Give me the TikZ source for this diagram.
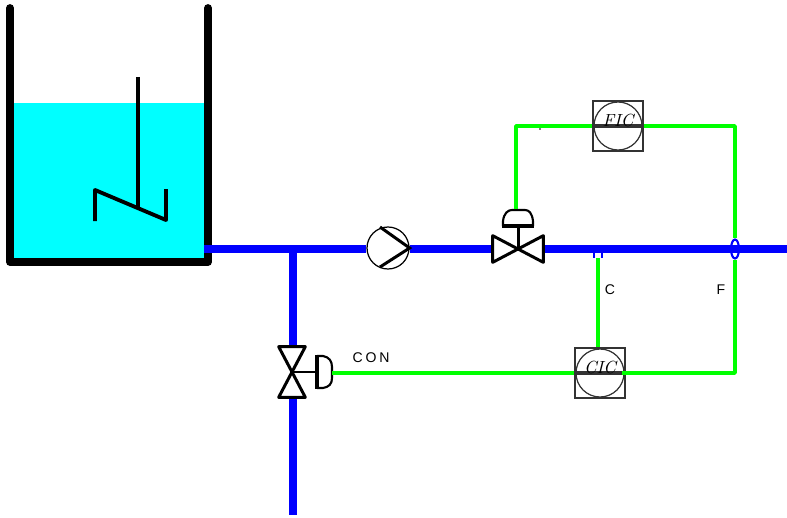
\documentclass[tikz,border=0pt]{standalone}
\usepackage{fontspec}
\usepackage{tikz}
\usetikzlibrary{shapes.geometric}
\newfontfamily\labelfont[LetterSpace=20]{Liberation Sans}
\definecolor{PipeBlue}{RGB}{0, 0, 255}
\definecolor{SignalGreen}{RGB}{0, 255, 0}
\definecolor{WaterCyan}{RGB}{0, 255, 255}

\begin{document}
\begin{tikzpicture}[
    x=0.02cm, y=-0.02cm,
    wall/.style={line width=4.4pt, line join=round, line cap=round},
    stirrer/.style={line width=2.2pt, line join=round},
    pipe/.style={PipeBlue, line width=4.1pt},
    signal/.style={SignalGreen, line width=2.1pt, line join=round},
    pumpbody/.style={draw, circle, inner sep=0pt, line width=0.7pt, minimum size=0.84cm},
    valvehoriz/.style={rectangle, inner sep=0pt, minimum width=1cm, minimum height=0.52cm},
    valvevert/.style={rectangle, inner sep=0pt, minimum width=0.52cm, minimum height=1cm},
    valveline/.style={line width=1.7pt, line join=round, fill=white},
    actuator/.style={line width=1.2pt, line join=round},
    actbar/.style={line width=2.4pt},
    instrument/.style={draw=black!80, line width=0.9pt, rectangle, inner sep=0pt, minimum size=0.99cm, font=\normalsize\itshape,
      path picture={
        \draw[line width=0.7pt] (path picture bounding box.center) circle (0.48cm);
        \draw[line width=2.8pt] (path picture bounding box.west) -- (path picture bounding box.east);
      }},
    tag/.style={font=\labelfont\footnotesize, inner sep=0pt}
  ]
    \useasboundingbox (0,0) rectangle (787,517);

    % tank
    \fill[WaterCyan] (10,103) rectangle (208,262);
    \draw[wall] (10,8) -- (10,262) -- (208,262) -- (208,8);
    \draw[line width=2pt] (138,77) -- (138,208);
    \draw[stirrer] (95,221) -- (95,190) -- (166,220) -- (166,189);

    % equipment
    \coordinate (outlet) at (204,249);
    \coordinate (tee) at (293,249);
    \coordinate (drain) at (293,515);
    \coordinate (lineend) at (787,249);
    \node[pumpbody] (pump) at (388,248) {};
    \node[valvehoriz] (mainvalve) at (518,249) {};
    \node[valvevert] (drainvalve) at (292,372) {};
    \node[instrument] (fic) at (618,126) {\raisebox{7pt}{FIC}};
    \node[instrument] (cic) at (600,373) {\raisebox{7pt}{CIC}};
    \node[inner sep=0pt, minimum width=0.16cm, minimum height=0.16cm] (csensor) at (598,254) {};
    \coordinate (mainact) at (516,209);
    \coordinate (drainact) at (332,373);

    % process lines
    \draw[pipe] (outlet) -- (pump.west |- outlet);
    \draw[pipe] (pump.east |- lineend) -- (mainvalve.west);
    \draw[pipe] (mainvalve.east) -- (lineend);
    \draw[pipe] (tee) -- (drainvalve.north -| tee);
    \draw[pipe] (drainvalve.south -| tee) -- (drain);
    \draw[PipeBlue, line width=1.2pt] (csensor.north west) -- (csensor.south west);
    \draw[PipeBlue, line width=1.2pt] (csensor.north east) -- (csensor.south east);
    \node[draw=PipeBlue, ellipse, line width=1.2pt, inner sep=0pt, minimum width=0.16cm, minimum height=0.38cm] (fsensor) at (735,249) {};

    % pump
    \draw[line width=1.7pt] (380,227) -- (pump.east) -- (380,267);

    % valves
    \draw[valveline] (mainvalve.north west) -- (mainvalve.south east) -- (mainvalve.north east) -- (mainvalve.south west) -- cycle;
    \draw[line width=1.7pt] (mainvalve.center) -- (518,226);
    \draw[actbar] (502,226) -- (534,226);
    \draw[actuator] (503,226) -- (503,221) .. controls (504,213) and (508,210) .. (512,210) -- (525,210) .. controls (529,210) and (532,213) .. (533,221) -- (533,226);
    \draw[valveline] (drainvalve.north west) -- (drainvalve.north east) -- (drainvalve.south west) -- (drainvalve.south east) -- cycle;
    \draw[line width=1.7pt] (drainvalve.center) -- (317,372);
    \draw[actbar] (317,355) -- (317,389);
    \draw[actuator] (317,356) -- (323,356) .. controls (329,357) and (332,361) .. (332,367) -- (332,378) .. controls (332,384) and (329,387) .. (323,388) -- (317,388);

    % control lines
    \draw[signal] (mainact) |- (fic.west);
    \draw[signal] (fic.east) -| (fsensor.north);
    \draw[signal] (fsensor.south) |- ([xshift=-0.08cm]cic.east);
    \draw[signal] (csensor.south) -- (csensor.south |- cic.north);
    \draw[signal] (drainact) -- (cic.west);
    \fill (540,129) circle (0.5pt);

    % labels
    \node[tag] (clabel) at (610,290) {C};
    \node[tag] (flabel) at (721,290) {F};
    \node[tag] (conlabel) at (371,358) {CON};
  \end{tikzpicture}
\end{document}
